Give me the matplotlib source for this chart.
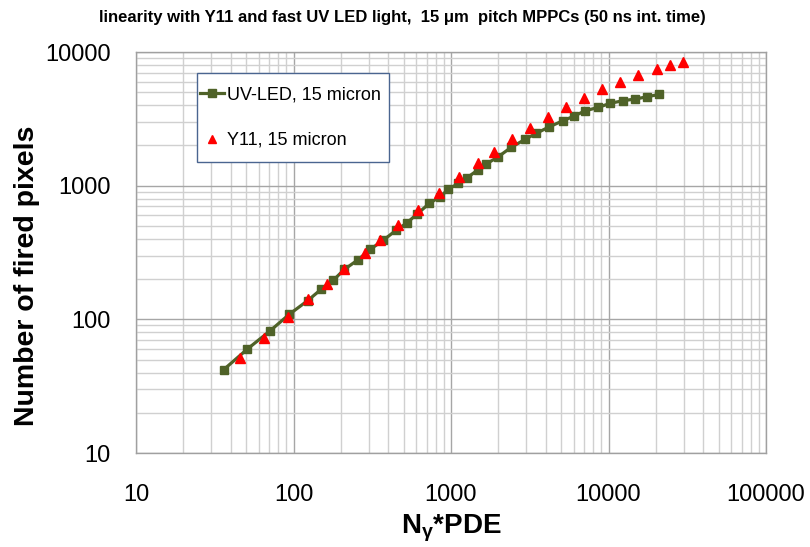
import matplotlib
matplotlib.use("Agg")
import matplotlib.pyplot as plt
from matplotlib.lines import Line2D
from matplotlib.patches import Rectangle

# ---- data ----
uv_x = [36, 51, 71, 94, 123, 150, 179, 210, 258, 306, 372, 448, 523, 611, 728, 851, 961,
        1112, 1271, 1479, 1667, 1995, 2404, 2951, 3467, 4209, 5117, 6000, 7100, 8615,
        10230, 12310, 14730, 17630, 21000]
uv_y = [42, 60, 82, 109, 138, 168, 196, 236, 280, 333, 391, 464, 525, 615, 736, 825, 938,
        1040, 1151, 1310, 1449, 1644, 1932, 2218, 2459, 2756, 3055, 3300, 3631, 3852,
        4130, 4318, 4446, 4625, 4820]

y11_x = [45.5, 64.7, 92, 123, 163, 210, 284, 354, 463, 615, 843, 1124, 1479, 1875, 2427,
         3177, 4150, 5350, 6990, 9052, 11830, 15470, 20240, 24550, 29570]
y11_y = [51.6, 73, 104, 141, 185, 238, 314, 395, 506, 654, 884, 1164, 1466, 1790, 2218,
         2686, 3245, 3852, 4548, 5263, 6000, 6730, 7420, 8000, 8460]

x_ticks = [10, 100, 1000, 10000, 100000]
y_ticks = [10, 100, 1000, 10000]
x_ticklabels = ["10", "100", "1000", "10000", "100000"]
y_ticklabels = ["10", "100", "1000", "10000"]

title = "linearity with Y11 and fast UV LED light,  15 \u03bcm  pitch MPPCs (50 ns int. time)"
uv_label = "UV-LED, 15 micron"
y11_label = "Y11, 15 micron"

plt.rcParams['font.family'] = ['Liberation Sans', 'DejaVu Sans']
plt.rcParams['mathtext.fontset'] = 'custom'
plt.rcParams['mathtext.rm'] = 'Liberation Sans:bold'
plt.rcParams['mathtext.bf'] = 'Liberation Sans:bold'
plt.rcParams['mathtext.it'] = 'Liberation Sans:bold'

fig = plt.figure(figsize=(8.1, 5.47), dpi=100)
ax = fig.add_axes([136/810, 1-453/547, 630/810, 401/547])
ax.set_xscale('log')
ax.set_yscale('log')
ax.set_xlim(10, 100000)
ax.set_ylim(10, 10000)

ax.grid(True, which='major', color='#a6a6a6', linewidth=1.0)
ax.grid(True, which='minor', color='#d0d0d0', linewidth=1.0)
ax.set_axisbelow(True)
for s in ax.spines.values():
    s.set_color('#a0a0a0')
    s.set_linewidth(1.0)

ax.set_xticks(x_ticks)
ax.set_xticklabels(x_ticklabels)
ax.set_yticks(y_ticks)
ax.set_yticklabels(y_ticklabels)
ax.tick_params(which='both', length=0)
ax.tick_params(axis='x', labelsize=17, pad=22)
ax.tick_params(axis='y', labelsize=17, pad=18)

olive = '#4f6228'
ax.plot(uv_x, uv_y, color=olive, linewidth=2.3, marker='s', markersize=6,
        markeredgecolor=olive, markerfacecolor=olive, zorder=3)
ax.plot(y11_x, y11_y, linestyle='none', marker='^', markersize=7.5,
        color='#ff0000', zorder=4)

ax.set_xlabel(r"N$_\mathrm{\gamma}$*PDE", fontsize=20, fontweight='bold')
ax.xaxis.label.set_va('center')
ax.xaxis.set_label_coords(0.5, (453-528)/401)
ax.set_ylabel("Number of fired pixels", fontsize=20.5, fontweight='bold')
ax.yaxis.label.set_va('center')
ax.yaxis.set_label_coords((27-136)/630, (453-276)/401)

fig.text(0.497, 0.968, title, ha='center', va='center', fontsize=12,
         fontweight='bold', family=['Liberation Sans Narrow', 'Liberation Sans', 'DejaVu Sans'])

# legend frame
rect = Rectangle((197/810, 1-162/547), 192/810, 89/547, transform=fig.transFigure,
                 facecolor='white', edgecolor='#4a6590', linewidth=1.0, zorder=2)
fig.patches.append(rect)

handles = [Line2D([], [], color=olive, linewidth=2.3, marker='s', markersize=6),
           Line2D([], [], linestyle='none', marker='^', markersize=6, color='#ff0000')]
leg = fig.legend(handles, [uv_label, y11_label], loc='center left',
                 bbox_to_anchor=(200/810, 1-117.5/547), fontsize=13, frameon=False,
                 handlelength=1.35, handletextpad=0.12,
                 labelspacing=1.6, borderpad=0, borderaxespad=0)
leg.set_zorder(5)

fig.savefig("out.png", dpi=100)
